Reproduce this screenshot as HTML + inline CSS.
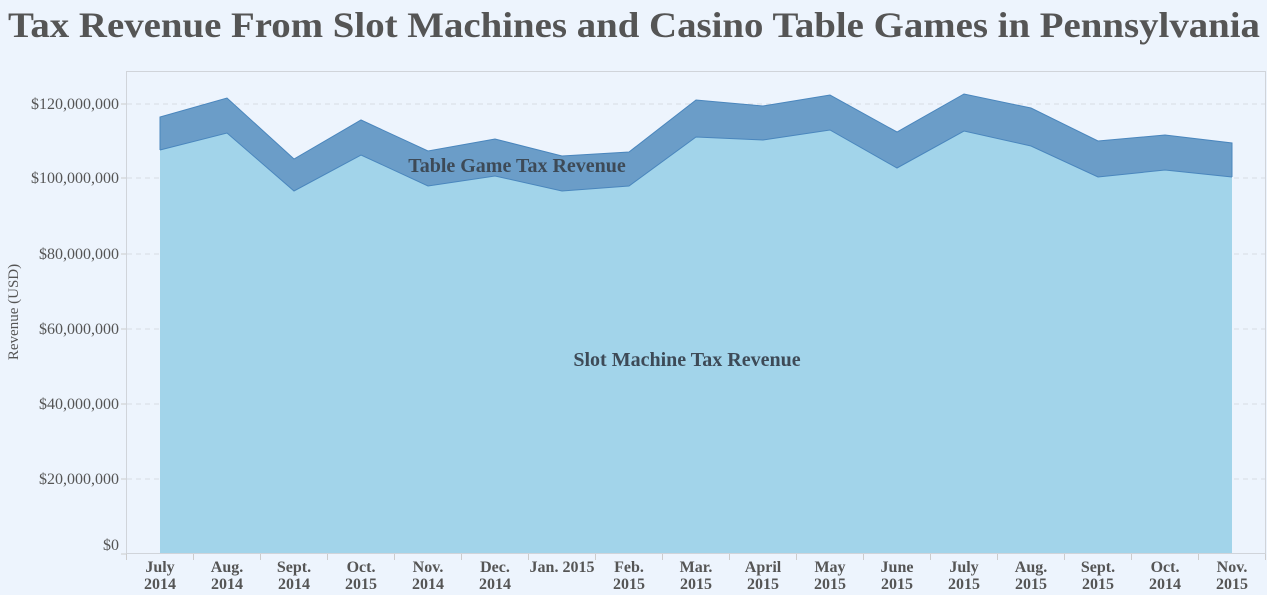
<!DOCTYPE html>
<html><head><meta charset="utf-8"><style>
html,body{margin:0;padding:0;background:#edf4fd;}
svg{display:block;font-family:"Liberation Serif",serif;}
</style></head><body>
<svg width="1267" height="595" viewBox="0 0 1267 595">
<rect width="1267" height="595" fill="#edf4fd"/>
<text x="8" y="37" font-size="36" font-weight="bold" fill="#555" textLength="1252" lengthAdjust="spacingAndGlyphs">Tax Revenue From Slot Machines and Casino Table Games in Pennsylvania</text>
<rect x="126.5" y="71.5" width="1139" height="482" fill="none" stroke="#d0d4da"/>
<g stroke="#d6dbe2" stroke-dasharray="5,4">
<line x1="127" x2="1265" y1="104" y2="104"/><line x1="127" x2="1265" y1="178" y2="178"/>
<line x1="127" x2="1265" y1="254" y2="254"/><line x1="127" x2="1265" y1="329" y2="329"/>
<line x1="127" x2="1265" y1="404" y2="404"/><line x1="127" x2="1265" y1="479" y2="479"/>
</g>
<g stroke="#ccc"><line x1="121" x2="126" y1="104" y2="104"/><line x1="121" x2="126" y1="178" y2="178"/><line x1="121" x2="126" y1="254" y2="254"/><line x1="121" x2="126" y1="329" y2="329"/><line x1="121" x2="126" y1="404" y2="404"/><line x1="121" x2="126" y1="479" y2="479"/><line x1="121" x2="126" y1="554" y2="554"/></g>
<polygon fill="#6b9dc8" points="160,117 227,98 294,159 361,120 428,151 495,139 562,156 629,152 696,100 763,106 830,95 897,132 964,94 1031,108 1098,141 1165,135 1232,143 1232,177 1165,170 1098,177 1031,146 964,131 897,168 830,130 763,140 696,137 629,186 562,191 495,176 428,186 361,155 294,191 227,133 160,150"/>
<polygon fill="#a2d4ea" points="160,150 227,133 294,191 361,155 428,186 495,176 562,191 629,186 696,137 763,140 830,130 897,168 964,131 1031,146 1098,177 1165,170 1232,177 1232,553 160,553"/>
<polyline fill="none" stroke="#4a86bd" stroke-width="1" points="160,150 160,117 227,98 294,159 361,120 428,151 495,139 562,156 629,152 696,100 763,106 830,95 897,132 964,94 1031,108 1098,141 1165,135 1232,143 1232,177"/>
<polyline fill="none" stroke="#4a86bd" stroke-width="1" points="160,150 227,133 294,191 361,155 428,186 495,176 562,191 629,186 696,137 763,140 830,130 897,168 964,131 1031,146 1098,177 1165,170 1232,177"/>
<g font-size="16" fill="#555" text-anchor="end">
<text x="119" y="109">$120,000,000</text><text x="119" y="183">$100,000,000</text><text x="119" y="259">$80,000,000</text><text x="119" y="334">$60,000,000</text><text x="119" y="409">$40,000,000</text><text x="119" y="484">$20,000,000</text><text x="119" y="550">$0</text>
</g>
<text transform="translate(18,312) rotate(-90)" font-size="15" fill="#555" text-anchor="middle">Revenue (USD)</text>
<g stroke="#ccc"><line x1="126.5" x2="126.5" y1="554" y2="560"/>
<line x1="193.5" x2="193.5" y1="554" y2="560"/><line x1="260.5" x2="260.5" y1="554" y2="560"/><line x1="327.5" x2="327.5" y1="554" y2="560"/><line x1="394.5" x2="394.5" y1="554" y2="560"/><line x1="461.5" x2="461.5" y1="554" y2="560"/><line x1="528.5" x2="528.5" y1="554" y2="560"/><line x1="595.5" x2="595.5" y1="554" y2="560"/><line x1="662.5" x2="662.5" y1="554" y2="560"/><line x1="729.5" x2="729.5" y1="554" y2="560"/><line x1="796.5" x2="796.5" y1="554" y2="560"/><line x1="863.5" x2="863.5" y1="554" y2="560"/><line x1="930.5" x2="930.5" y1="554" y2="560"/><line x1="997.5" x2="997.5" y1="554" y2="560"/><line x1="1064.5" x2="1064.5" y1="554" y2="560"/><line x1="1131.5" x2="1131.5" y1="554" y2="560"/><line x1="1198.5" x2="1198.5" y1="554" y2="560"/><line x1="1265.5" x2="1265.5" y1="554" y2="560"/></g>
<g font-size="16" font-weight="bold" fill="#555" text-anchor="middle">
<text x="160" y="572">July</text><text x="160" y="589">2014</text>
<text x="227" y="572">Aug.</text><text x="227" y="589">2014</text>
<text x="294" y="572">Sept.</text><text x="294" y="589">2014</text>
<text x="361" y="572">Oct.</text><text x="361" y="589">2015</text>
<text x="428" y="572">Nov.</text><text x="428" y="589">2014</text>
<text x="495" y="572">Dec.</text><text x="495" y="589">2014</text>
<text x="562" y="572">Jan. 2015</text>
<text x="629" y="572">Feb.</text><text x="629" y="589">2015</text>
<text x="696" y="572">Mar.</text><text x="696" y="589">2015</text>
<text x="763" y="572">April</text><text x="763" y="589">2015</text>
<text x="830" y="572">May</text><text x="830" y="589">2015</text>
<text x="897" y="572">June</text><text x="897" y="589">2015</text>
<text x="964" y="572">July</text><text x="964" y="589">2015</text>
<text x="1031" y="572">Aug.</text><text x="1031" y="589">2015</text>
<text x="1098" y="572">Sept.</text><text x="1098" y="589">2015</text>
<text x="1165" y="572">Oct.</text><text x="1165" y="589">2014</text>
<text x="1232" y="572">Nov.</text><text x="1232" y="589">2015</text>
</g>
<text x="517" y="172" font-size="20" font-weight="bold" fill="#3d4a57" text-anchor="middle">Table Game Tax Revenue</text>
<text x="687" y="366" font-size="20" font-weight="bold" fill="#3d4a57" text-anchor="middle">Slot Machine Tax Revenue</text>
</svg>
</body></html>
